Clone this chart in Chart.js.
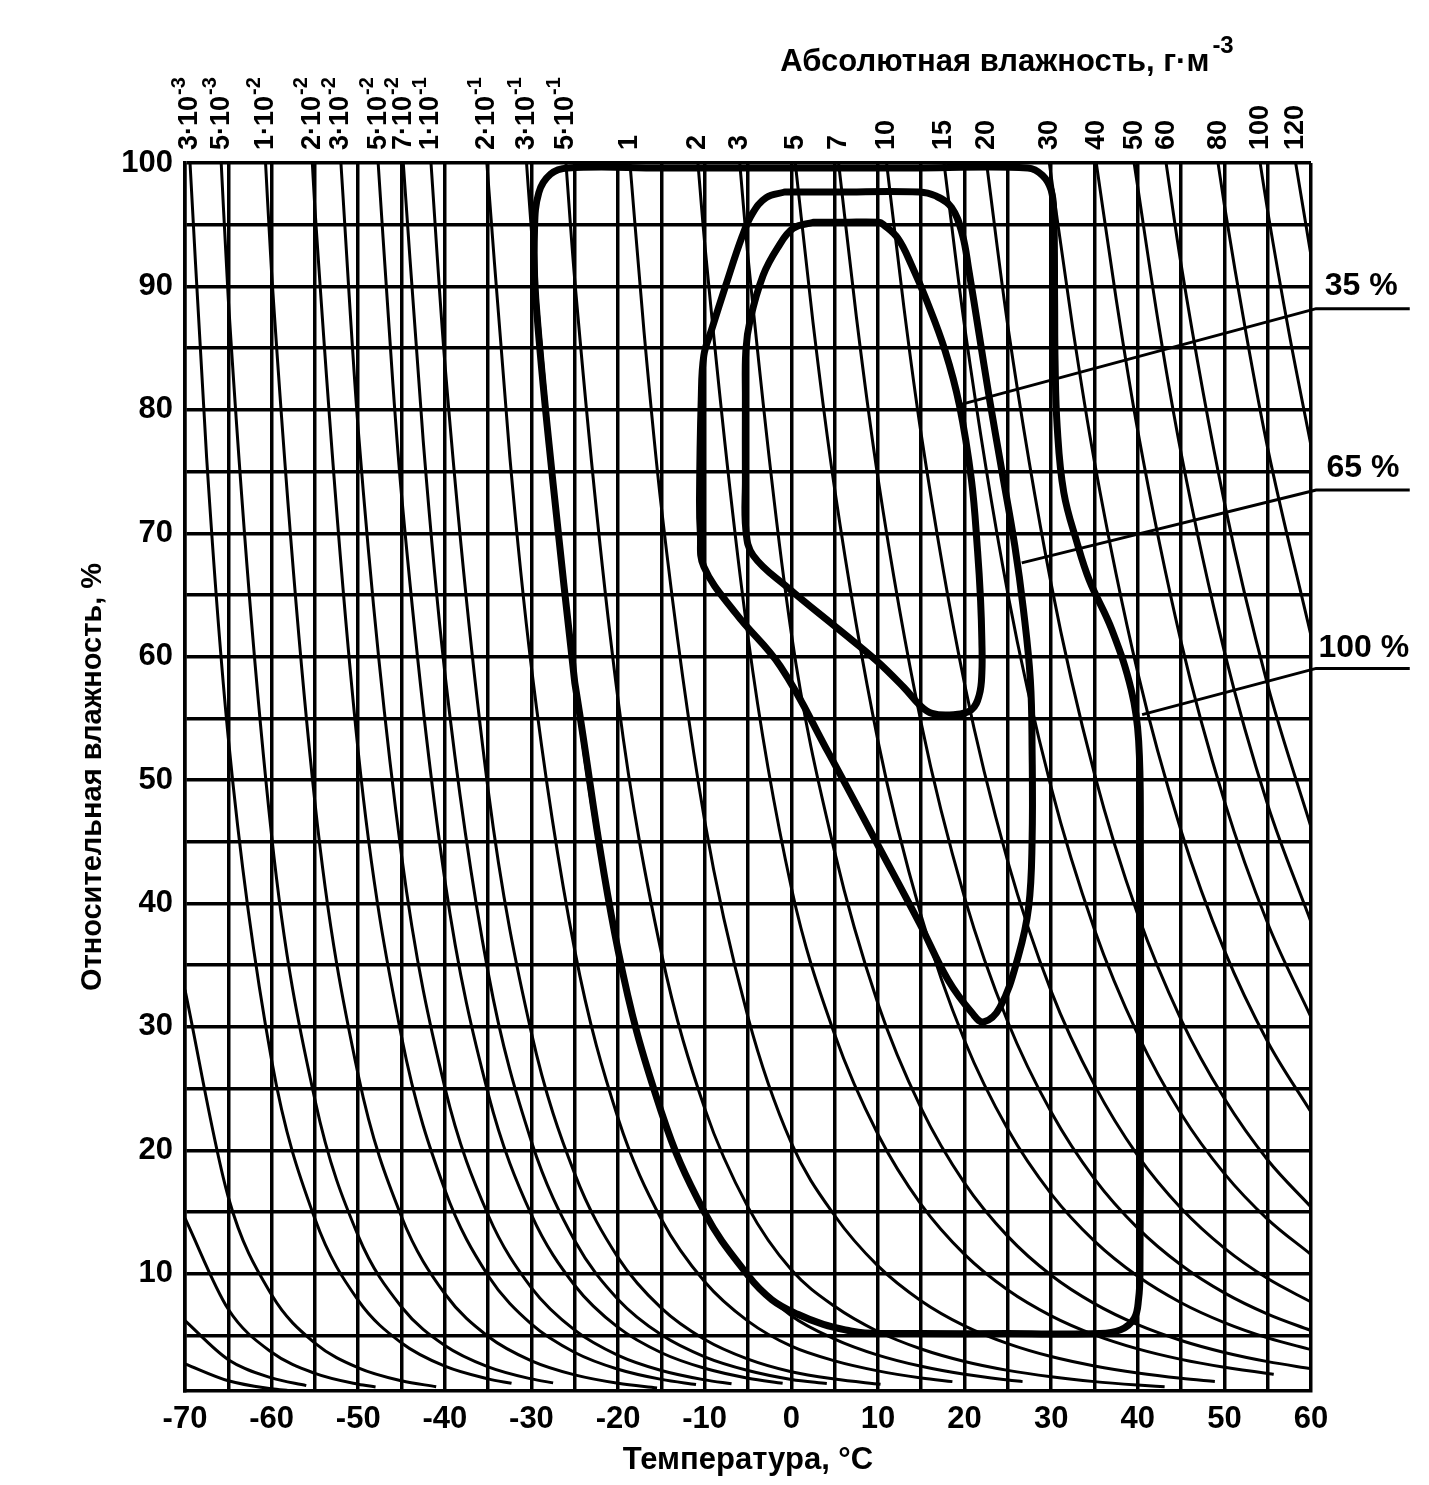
<!DOCTYPE html>
<html><head><meta charset="utf-8">
<script src="https://cdn.jsdelivr.net/npm/chart.js@4.4.1/dist/chart.umd.min.js"></script>
<style>html,body{margin:0;padding:0;background:#fff}#wrap{width:1429px;height:1485px;position:relative}</style>
</head><body><div id="wrap"><canvas id="c"></canvas></div>
<script>
// ---- axis ticks ----
const tempTicks = [-70,-65,-60,-55,-50,-45,-40,-35,-30,-25,-20,-15,-10,-5,0,5,10,15,20,25,30,35,40,45,50,55,60];
const rhTicks = [5,10,15,20,25,30,35,40,45,50,55,60,65,70,75,80,85,90,95,100];

// ---- absolute humidity iso-lines [temperature °C, relative humidity %] ----
const cL4 = [[-70,2.7],[-65,1.33],[-60,0.68],[-58,0.53]];
const cL3 = [[-70,6.2],[-65,3.04],[-60,1.56],[-56,0.935]];
const cL2 = [[-70,14.5],[-65,7.12],[-60,3.64],[-55,1.93],[-50,1.05],[-48,0.83]];
const cL1 = [[-70,33.0],[-65,16.2],[-60,8.29],[-55,4.38],[-50,2.38],[-45,1.33],[-41,0.85]];
const c3e3 = [[-69.42,100],[-67.5,76.1],[-65,53.4],[-60,27.3],[-55,14.45],[-50,7.84],[-45,4.39],[-40,2.51],[-35,1.48],[-32.3,1.12]];
const c5e3 = [[-65.82,100],[-65,88.95],[-60,45.5],[-55,24.1],[-50,13.07],[-45,7.31],[-40,4.19],[-35,2.46],[-30,1.48],[-27.5,1.16]];
const c1e2 = [[-60.7,100],[-60,91.1],[-55,48.2],[-50,26.1],[-45,14.62],[-40,8.38],[-35,4.92],[-30,2.95],[-25,1.81],[-20,1.13],[-15.5,0.75]];
const c2e2 = [[-55.3,100],[-55,96.3],[-50,52.3],[-45,29.2],[-40,16.8],[-35,9.84],[-30,5.91],[-25,3.62],[-20,2.26],[-15,1.44],[-11,1.02]];
const c3e2 = [[-52,100],[-50,78.4],[-45,43.9],[-40,25.1],[-35,14.76],[-30,8.86],[-25,5.43],[-20,3.39],[-15,2.16],[-10,1.40],[-6.9,1.08]];
const c5e2 = [[-47.7,100],[-46,82.1],[-45,73.1],[-40,41.9],[-35,24.6],[-30,14.77],[-25,9.05],[-20,5.65],[-15,3.60],[-10,2.34],[-5,1.54],[-1,1.12]];
const c7e2 = [[-44.8,100],[-42.5,77.5],[-40,58.7],[-35,34.4],[-30,20.7],[-25,12.67],[-20,7.92],[-15,5.05],[-10,3.27],[-5,2.16],[0,1.44],[4.1,1.10]];
const c1e1 = [[-41.6,100],[-40,83.8],[-35,49.2],[-30,29.5],[-25,18.09],[-20,11.31],[-15,7.21],[-10,4.67],[-5,3.08],[0,2.06],[5,1.47],[10.3,1.04]];
const c2e1 = [[-35.15,100],[-32.5,76.2],[-30,59.1],[-25,36.2],[-20,22.6],[-15,14.42],[-10,9.35],[-5,6.16],[0,4.13],[5,2.94],[10,2.13],[15,1.56],[18.6,1.26]];
const c3e1 = [[-30.57,100],[-30,94.5],[-25,57.9],[-20,36.2],[-15,23.1],[-10,14.95],[-5,9.86],[0,6.60],[5,4.71],[10,3.41],[15,2.50],[20,1.85],[25,1.39],[26.7,1.26]];
const c5e1 = [[-26.02,100],[-25,90.5],[-20,56.5],[-15,36.0],[-10,23.4],[-5,15.4],[0,10.32],[5,7.36],[10,5.32],[15,3.90],[20,2.89],[25,2.17],[30,1.65],[35,1.26],[40,0.98],[43.1,0.84]];
const c1 = [[-18.63,100],[-17,86.3],[-15,72.1],[-10,46.7],[-5,30.8],[0,20.6],[5,14.72],[10,10.64],[15,7.80],[20,5.78],[25,4.34],[30,3.29],[35,2.53],[40,1.96],[45,1.53],[48.9,1.27]];
const c2 = [[-10.78,100],[-10,93.5],[-5,61.6],[0,41.3],[5,29.4],[10,21.3],[15,15.6],[20,11.57],[25,8.68],[30,6.59],[35,5.05],[40,3.91],[45,3.06],[50,2.42],[55,1.92],[55.7,1.86]];
const c3 = [[-5.95,100],[-5,92.4],[0,61.9],[5,44.2],[10,31.9],[15,23.4],[20,17.35],[25,13.03],[30,9.88],[35,7.58],[40,5.87],[45,4.59],[50,3.62],[55,2.88],[60,2.31]];
const c5 = [[0.46,100],[2.5,87.1],[5,73.6],[10,53.2],[15,39.0],[20,28.9],[25,21.7],[30,16.47],[35,12.64],[40,9.79],[45,7.65],[50,6.04],[55,4.80],[60,3.85]];
const c7 = [[5.46,100],[7.5,87.6],[10,74.5],[15,54.6],[20,40.5],[25,30.4],[30,23.1],[35,17.69],[40,13.7],[45,10.71],[50,8.45],[55,6.73],[60,5.40]];
const c10 = [[11.0,100],[13,88.3],[15,78.0],[20,57.8],[25,43.4],[30,32.9],[35,25.3],[40,19.57],[45,15.31],[50,12.08],[55,9.61],[60,7.71]];
const c15 = [[17.63,100],[20,86.8],[25,65.1],[30,49.4],[35,37.9],[40,29.4],[45,22.96],[50,18.11],[55,14.41],[60,11.56]];
const c20 = [[22.54,100],[25,86.8],[30,65.9],[35,50.5],[40,39.1],[45,30.6],[50,24.2],[55,19.22],[60,15.41]];
const c30 = [[29.79,100],[32.5,86.6],[35,75.8],[40,58.7],[45,45.9],[50,36.2],[55,28.8],[60,23.1]];
const c40 = [[35.21,100],[37.5,89.0],[40,78.3],[45,61.2],[50,48.3],[55,38.4],[60,30.8]];
const c50 = [[39.58,100],[42.5,86.5],[45,76.5],[50,60.4],[55,48.0],[60,38.5]];
const c60 = [[43.27,100],[45,91.8],[50,72.5],[55,57.7],[60,46.2]];
const c80 = [[49.27,100],[50,96.6],[52.5,86.2],[55,76.9],[60,61.7]];
const c100 = [[54.13,100],[55,96.1],[57.5,86.1],[60,77.1]];
const c120 = [[58.23,100],[60,92.5]];

// labelled curves (top axis): mantissa and exponent of each label
const labeledCurves = [c3e3,c5e3,c1e2,c2e2,c3e2,c5e2,c7e2,c1e1,c2e1,c3e1,c5e1,c1,c2,c3,c5,c7,c10,c15,c20,c30,c40,c50,c60,c80,c100,c120];
const ahMant = ['3·10','5·10','1·10','2·10','3·10','5·10','7·10','1·10','2·10','3·10','5·10','1','2','3','5','7','10','15','20','30','40','50','60','80','100','120'];
const ahExp  = ['-3','-3','-2','-2','-2','-2','-2','-1','-1','-1','-1','','','','','','','','','','','','','','',''];
const unlabeledCurves = [cL4,cL3,cL2,cL1];

// ---- comfort zones (thick outlines) ----
const envOuter = [[-25,57.9],[-27.5,74.0],[-29.5,89.0],[-29.65,94.5],[-29.15,97.6],[-27.8,99.1],[-25.8,99.6],[-15,99.6],[0,99.6],[15,99.6],[27.3,99.6],[29.0,99.0],[30.0,97.8],[30.3,95.8],[30.4,88.9],[30.45,84.0],[30.7,78.6],[31.46,73.3],[33.0,69.2],[34.4,66.2],[37.0,62.2],[39.25,57.3],[40.1,53.2],[40.3,45],[40.3,25],[40.25,10],[40.1,8.0],[39.6,6.4],[38.0,5.45],[35.5,5.15],[25,5.15],[15,5.15],[8.5,5.2],[6.6,5.4],[3.7,5.9],[0.8,6.7],[-2.25,7.9],[-5,9.86],[-10,14.95],[-15,23.1],[-20,36.2],[-25,57.9]];
const envMiddle = [[-0.75,97.65],[5,97.65],[14.8,97.65],[16.6,97.35],[18.5,96.4],[19.75,94.2],[20.5,91.3],[21.6,86.5],[22.9,80.8],[24.3,75.1],[25.8,69.0],[26.8,63.8],[27.6,58.1],[27.8,52.4],[27.8,45.1],[27.4,39.7],[26.2,35.7],[24.1,31.6],[22.2,30.4],[20.9,31.1],[18.1,33.8],[14.8,38.4],[10.1,44.6],[4.3,52.2],[-1.25,59.2],[-6.4,63.5],[-10.1,67.3],[-10.5,70],[-10.6,72.7],[-10.4,80.8],[-10.1,84.4],[-9.2,86.5],[-7.56,90.1],[-5.7,94.0],[-4.5,95.9],[-2.9,97.2],[-0.75,97.65]];
const envInner = [[2.56,95.2],[6,95.2],[10.1,95.2],[10.65,95.0],[12.3,93.9],[13.9,91.7],[15.6,88.9],[17.75,84.8],[19.4,80.4],[20.8,74.3],[21.5,68.6],[21.85,64.6],[22.0,61.3],[22.0,58.7],[21.7,56.9],[20.8,55.7],[18.75,55.3],[16.25,55.4],[14.8,56.1],[13.0,57.5],[9.8,59.7],[5.5,62.2],[-0.4,65.6],[-4.4,68.2],[-5.25,70.3],[-5.3,74.3],[-5.3,80.8],[-5.25,84.8],[-4.75,87.3],[-3.25,90.9],[-1.6,93.1],[0.2,94.7],[2.56,95.2]];

// ---- leader lines and their labels ----
const leader35 = [[19.4,80.4],[60.6,88.2],[71.4,88.2]];
const leader65 = [[26.6,67.6],[60.6,73.5],[71.4,73.5]];
const leader100 = [[40.5,55.3],[60.6,59.05],[71.4,59.05]];
const zoneLabels = ['35 %','65 %','100 %'];
const zoneLabelAt = [[65.8,90.0],[66.0,75.3],[66.1,60.7]];

const FONT = "'Liberation Sans', Arial, Helvetica, sans-serif";
const BLACK = '#000';

const toXY = arr => arr.map(([t, r]) => ({x: t, y: r}));
const datasets = [];
[envOuter, envMiddle, envInner].forEach(e => datasets.push({
  data: toXY(e), showLine: true, borderColor: BLACK, borderWidth: 7, pointRadius: 0,
  tension: 0.4, borderJoinStyle: 'round', borderCapStyle: 'round', order: 0
}));
unlabeledCurves.concat(labeledCurves).forEach(c => datasets.push({
  data: toXY(c), showLine: true, borderColor: BLACK, borderWidth: 3, pointRadius: 0,
  cubicInterpolationMode: 'monotone', order: 1
}));

const annot = {
  id: 'annot',
  afterDatasetsDraw(chart) {
    const {ctx, scales: {x, y, x2}, chartArea} = chart;
    ctx.save();
    ctx.strokeStyle = BLACK; ctx.lineWidth = 3; ctx.lineJoin = 'round';
    [leader35, leader65, leader100].forEach(line => {
      ctx.beginPath();
      line.forEach(([t, r], i) => {
        const px = x.getPixelForValue(t), py = y.getPixelForValue(r);
        if (i) ctx.lineTo(px, py); else ctx.moveTo(px, py);
      });
      ctx.stroke();
    });
    ctx.fillStyle = BLACK;
    ctx.font = 'bold 32px ' + FONT;
    ctx.textAlign = 'center'; ctx.textBaseline = 'middle';
    zoneLabels.forEach((txt, i) => ctx.fillText(txt, x.getPixelForValue(zoneLabelAt[i][0]), y.getPixelForValue(zoneLabelAt[i][1])));

    // top axis labels: rotated, with superscript exponents
    labeledCurves.forEach((c, i) => {
      const px = x2.getPixelForValue(c[0][0]);
      ctx.save();
      ctx.translate(px, chartArea.top - 13);
      ctx.rotate(-Math.PI / 2);
      ctx.textAlign = 'left'; ctx.textBaseline = 'middle';
      ctx.font = 'bold 27px ' + FONT;
      ctx.fillText(ahMant[i], 0, 0);
      if (ahExp[i]) {
        const w = ctx.measureText(ahMant[i]).width;
        ctx.font = 'bold 20px ' + FONT;
        ctx.fillText(ahExp[i], w + 1, -11);
      }
      ctx.restore();
    });

    // top axis title with superscript
    const main = 'Абсолютная влажность, г·м';
    ctx.font = 'bold 31px ' + FONT;
    ctx.textAlign = 'left'; ctx.textBaseline = 'middle';
    const w = ctx.measureText(main).width;
    const cx = x.getPixelForValue(23.5);
    const cy = chartArea.top - 101;
    ctx.fillText(main, cx - w / 2, cy);
    ctx.font = 'bold 24px ' + FONT;
    ctx.fillText('-3', cx + w / 2 + 3, cy - 16);
    ctx.restore();
  }
};

const tickFont = {family: FONT, size: 31, weight: 'bold'};
new Chart(document.getElementById('c'), {
  type: 'scatter',
  data: {datasets},
  options: {
    responsive: true, maintainAspectRatio: false, animation: false,
    layout: {padding: {left: 0, right: 118, top: 0, bottom: 0}},
    plugins: {legend: {display: false}, tooltip: {enabled: false}},
    elements: {point: {radius: 0}},
    scales: {
      x: {
        type: 'linear', position: 'bottom', min: -70, max: 60,
        afterBuildTicks: s => { s.ticks = tempTicks.map(v => ({value: v})); },
        afterFit: s => { s.height = 94; },
        ticks: {callback: v => (v % 10 === 0 ? String(v) : ''), autoSkip: false, maxRotation: 0, padding: 10, color: BLACK, font: tickFont},
        grid: {color: BLACK, lineWidth: 3.5, drawTicks: false},
        border: {color: BLACK, width: 3.5},
        title: {display: true, text: 'Температура, °C', color: BLACK, font: {family: FONT, size: 31, weight: 'bold'}, padding: {top: 0, bottom: 6}}
      },
      x2: {
        type: 'linear', position: 'top', min: -70, max: 60,
        afterBuildTicks: s => { s.ticks = labeledCurves.map(c => ({value: c[0][0]})); },
        afterFit: s => { s.height = 163; },
        ticks: {display: false},
        grid: {display: false, drawTicks: false},
        border: {display: false}
      },
      y: {
        type: 'linear', min: 0.5, max: 100,
        afterBuildTicks: s => { s.ticks = rhTicks.map(v => ({value: v})); },
        afterFit: s => { s.width = 185; },
        ticks: {callback: v => (v % 10 === 0 ? String(v) : ''), autoSkip: false, padding: 12, color: BLACK, font: tickFont},
        grid: {color: BLACK, lineWidth: 3.5, drawTicks: false},
        border: {color: BLACK, width: 3.5},
        title: {display: true, text: 'Относительная влажность, %', color: BLACK, font: {family: FONT, size: 29, weight: 'bold'}, padding: {top: 76, bottom: 0}}
      }
    }
  },
  plugins: [annot]
});
</script></body></html>
